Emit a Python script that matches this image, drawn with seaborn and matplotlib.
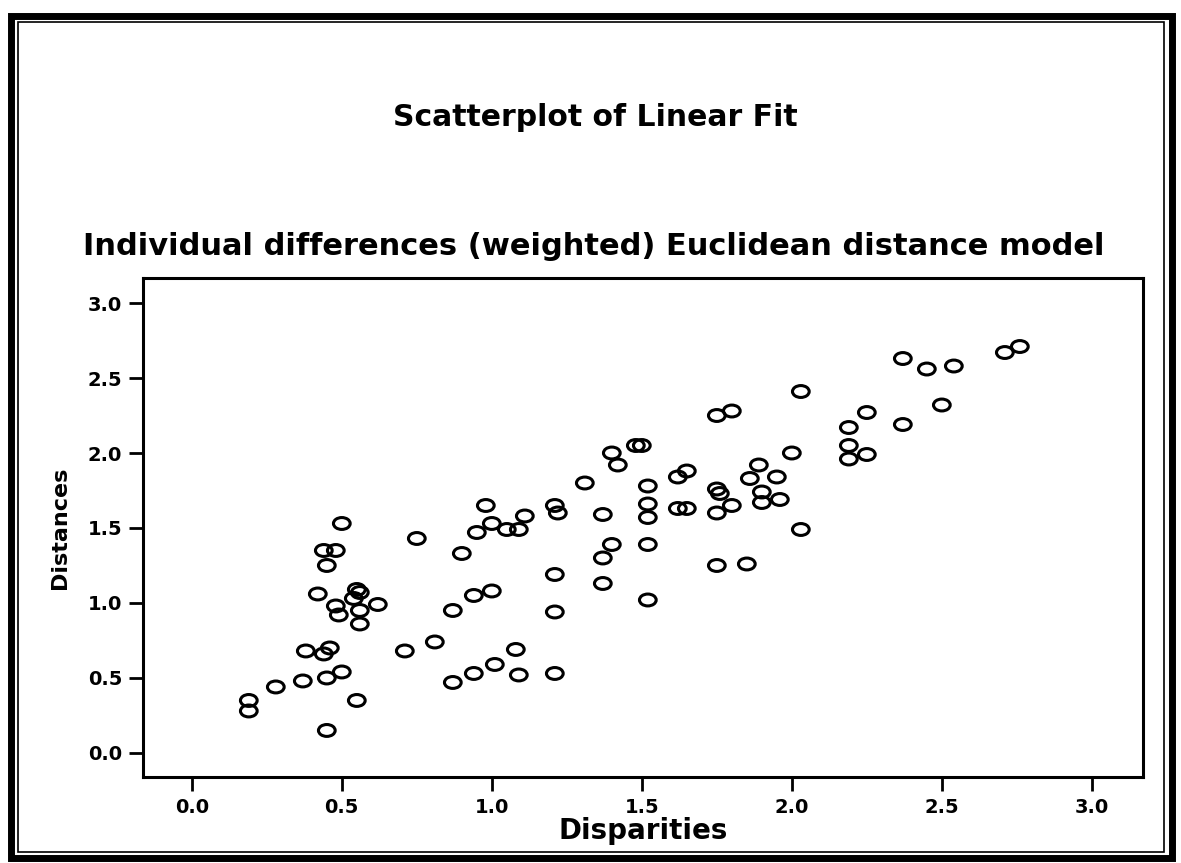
import matplotlib
matplotlib.use("Agg")
import matplotlib.pyplot as plt
from matplotlib.path import Path
from matplotlib.transforms import Affine2D
from matplotlib.patches import Rectangle
import pandas as pd
import seaborn as sns

# values
disparities = [0.19, 0.19, 0.28, 0.37, 0.38, 0.45, 0.50, 0.44, 0.46, 0.45,
               0.55, 0.42, 0.48, 0.49, 0.55, 0.56, 0.54, 0.56, 0.56, 0.62,
               0.45, 0.44, 0.48, 0.50, 0.75, 0.71, 0.81, 0.87, 0.94, 1.01,
               1.08, 1.09, 1.21, 0.87, 0.94, 1.00, 0.90, 0.95, 0.98, 1.00,
               1.05, 1.09, 1.11, 1.21, 1.22, 1.21, 1.21, 1.31, 1.40, 1.42,
               1.48, 1.50, 1.37, 1.40, 1.37, 1.37, 1.52, 1.52, 1.52, 1.52,
               1.52, 1.62, 1.65, 1.62, 1.65, 1.75, 1.76, 1.80, 1.75, 1.75,
               1.80, 1.75, 1.85, 1.86, 1.89, 1.90, 1.90, 1.95, 1.96, 2.00,
               2.03, 2.03, 2.19, 2.19, 2.19, 2.25, 2.25, 2.37, 2.37, 2.45,
               2.50, 2.54, 2.71, 2.76]
distances = [0.35, 0.28, 0.44, 0.48, 0.68, 0.50, 0.54, 0.66, 0.70, 0.15,
             0.35, 1.06, 0.98, 0.92, 1.09, 1.07, 1.03, 0.95, 0.86, 0.99,
             1.25, 1.35, 1.35, 1.53, 1.43, 0.68, 0.74, 0.47, 0.53, 0.59,
             0.69, 0.52, 0.53, 0.95, 1.05, 1.08, 1.33, 1.47, 1.65, 1.53,
             1.49, 1.49, 1.58, 1.65, 1.60, 1.19, 0.94, 1.80, 2.00, 1.92,
             2.05, 2.05, 1.59, 1.39, 1.30, 1.13, 1.78, 1.66, 1.57, 1.39,
             1.02, 1.84, 1.88, 1.63, 1.63, 1.76, 1.73, 1.65, 1.60, 2.25,
             2.28, 1.25, 1.26, 1.83, 1.92, 1.74, 1.67, 1.84, 1.69, 2.00,
             2.41, 1.49, 2.17, 2.05, 1.96, 2.27, 1.99, 2.19, 2.63, 2.56,
             2.32, 2.58, 2.67, 2.71]

x_ticks = [0.0, 0.5, 1.0, 1.5, 2.0, 2.5, 3.0]
y_ticks = [0.0, 0.5, 1.0, 1.5, 2.0, 2.5, 3.0]
title = "Scatterplot of Linear Fit"
subtitle = "Individual differences (weighted) Euclidean distance model"

sns.set_theme(style="ticks")
plt.rcParams["font.family"] = ["DejaVu Sans"]
plt.rcParams["text.color"] = "black"
plt.rcParams["axes.labelcolor"] = "black"

df = pd.DataFrame({"Disparities": disparities, "Distances": distances})

fig = plt.figure(figsize=(11.81, 8.63), dpi=100)
fig.patch.set_facecolor("white")
ax = fig.add_axes([0.121, 0.0997, 0.8467, 0.5782])
ax.set_facecolor("white")

# the scan is stretched sideways, so the circles come out as ovals
oval = Path.unit_circle().transformed(Affine2D().scale(1.0, 0.71))

sns.scatterplot(data=df, x="Disparities", y="Distances", ax=ax,
                marker=oval, s=145, facecolor="none",
                edgecolor="black", linewidth=2.2)

ax.set_xlim(-0.163, 3.17)
ax.set_ylim(-0.16, 3.167)
ax.set_xticks(x_ticks)
ax.set_yticks(y_ticks)
ax.set_xticklabels([f"{t:.1f}" for t in x_ticks])
ax.set_yticklabels([f"{t:.1f}" for t in y_ticks])
ax.tick_params(direction="out", length=10, width=2, colors="black",
               labelsize=14, pad=5)
for lab in ax.get_xticklabels() + ax.get_yticklabels():
    lab.set_fontweight("bold")

for side in ["left", "right", "top", "bottom"]:
    ax.spines[side].set_visible(True)
    ax.spines[side].set_color("black")
    ax.spines[side].set_linewidth(2.2)

ax.set_xlabel("Disparities", fontsize=20, fontweight="bold", va="center")
ax.set_ylabel("Distances", fontsize=16, fontweight="bold", va="center")
ax.xaxis.set_label_coords(0.5, -0.108)
ax.yaxis.set_label_coords(-0.083, 0.5)

fig.text(0.504, 0.864, title, ha="center", va="center",
         fontsize=21.5, fontweight="bold")
fig.text(0.503, 0.714, subtitle, ha="center", va="center",
         fontsize=22, fontweight="bold")

# double border round the whole output block
fig.add_artist(Rectangle((0.0093, 0.006), 0.9827, 0.9755,
                         transform=fig.transFigure, fill=False,
                         lw=5, ec="black"))
fig.add_artist(Rectangle((0.0155, 0.0125), 0.970, 0.962,
                         transform=fig.transFigure, fill=False,
                         lw=1.2, ec="black"))

fig.savefig("out.png", dpi=100)
